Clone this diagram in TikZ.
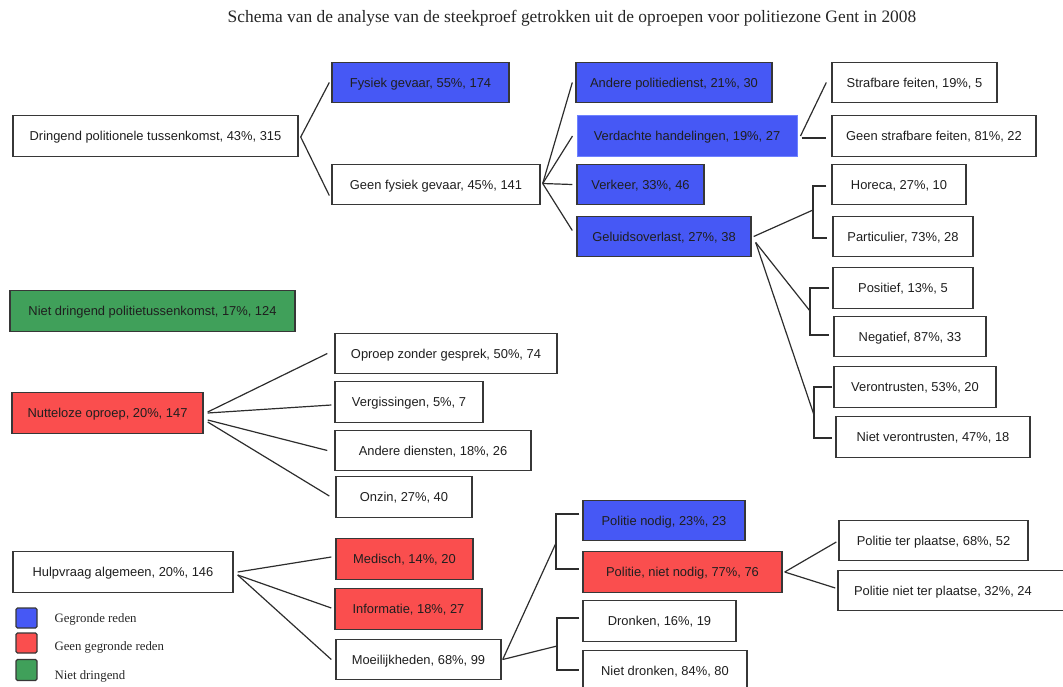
\documentclass[tikz,border=0pt]{standalone}
\usepackage{fontspec}
\setmainfont{Liberation Serif}
\newfontfamily\boxfont{Liberation Sans}
\usetikzlibrary{calc}
\definecolor{gblue}{RGB}{70,88,245}
\definecolor{gred}{RGB}{250,78,78}
\definecolor{ggreen}{RGB}{64,160,90}
\definecolor{bord}{RGB}{55,55,55}
\definecolor{lnk}{RGB}{45,45,45}
\begin{document}
\begin{tikzpicture}[x=1pt,y=-1pt,
  box/.style={draw=bord, line width=1.4pt, fill=white, minimum height=40.5pt, inner sep=0pt,
    text height=9.3pt, text depth=0pt,
    font=\boxfont\fontsize{12.9}{15}\selectfont, text=black!88},
  bluebox/.style={box, fill=gblue},
  redbox/.style={box, fill=gred},
  greenbox/.style={box, fill=ggreen},
  conn/.style={draw=lnk, line width=1.2pt},
  legsq/.style={draw=bord, line width=1.2pt, rounded corners=1.5pt},
  legtxt/.style={anchor=west, font=\fontsize{12.8}{14}\selectfont, text=black!85},
]
\useasboundingbox (0,0) rectangle (1063,686);

% title
\node[font=\fontsize{17.4}{20}\selectfont, text=black!85] (title) at (572,18) {Schema van de analyse van de steekproef getrokken uit de oproepen voor politiezone Gent in 2008};

% top tree
\node[box, minimum width=285pt] (dring) at (155.5,136) {Dringend politionele tussenkomst, 43\%, 315};
\node[bluebox, minimum width=177pt] (fys) at (420.5,82.5) {Fysiek gevaar, 55\%, 174};
\node[box, minimum width=208pt] (geenfys) at (436,184.5) {Geen fysiek gevaar, 45\%, 141};
\node[bluebox, minimum width=196pt] (andpol) at (674,82.5) {Andere politiedienst, 21\%, 30};
\node[bluebox, draw={rgb,255:red,110;green,130;blue,255}, line width=1pt, minimum width=220pt] (verd) at (687,136) {Verdachte handelingen, 19\%, 27};
\node[bluebox, minimum width=127pt] (verk) at (640.5,184.5) {Verkeer, 33\%, 46};
\node[bluebox, minimum width=174pt] (gel) at (664,236.5) {Geluidsoverlast, 27\%, 38};
\node[box, minimum width=165pt] (straf) at (914.5,82.5) {Strafbare feiten, 19\%, 5};
\node[box, minimum width=204pt] (geenstraf) at (934,136) {Geen strafbare feiten, 81\%, 22};
\node[box, minimum width=134pt] (horeca) at (899,184.5) {Horeca, 27\%, 10};
\node[box, minimum width=140pt] (partic) at (903,236.5) {Particulier, 73\%, 28};
\node[box, minimum width=140pt] (posit) at (903,288) {Positief, 13\%, 5};
\node[box, minimum width=152pt] (negat) at (910,336.5) {Negatief, 87\%, 33};
\node[box, minimum width=162pt] (veront) at (915,387) {Verontrusten, 53\%, 20};
\node[box, minimum width=194pt] (nietver) at (933,437) {Niet verontrusten, 47\%, 18};

% middle
\node[greenbox, minimum width=285pt] (nietdr) at (152.5,311) {Niet dringend politietussenkomst, 17\%, 124};
\node[redbox, minimum width=191pt] (nuttel) at (107.5,413) {Nutteloze oproep, 20\%, 147};
\node[box, minimum width=222pt] (oproep) at (446,353.5) {Oproep zonder gesprek, 50\%, 74};
\node[box, minimum width=148pt] (vergis) at (409,402) {Vergissingen, 5\%, 7};
\node[box, minimum width=196pt] (anddien) at (433,450.5) {Andere diensten, 18\%, 26};
\node[box, minimum width=136pt] (onzin) at (404,497) {Onzin, 27\%, 40};

% bottom
\node[box, minimum width=220pt] (hulp) at (123,572) {Hulpvraag algemeen, 20\%, 146};
\node[redbox, minimum width=137pt] (medisch) at (404.5,559) {Medisch, 14\%, 20};
\node[redbox, minimum width=147pt] (info) at (408.5,609) {Informatie, 18\%, 27};
\node[box, minimum width=165pt] (moeil) at (418.5,659.5) {Moeilijkheden, 68\%, 99};
\node[bluebox, minimum width=162pt] (polnod) at (664,520.5) {Politie nodig, 23\%, 23};
\node[redbox, minimum width=199pt] (polniet) at (682.5,572) {Politie, niet nodig, 77\%, 76};
\node[box, minimum width=153pt] (dronk) at (659.5,621) {Dronken, 16\%, 19};
\node[box, minimum width=164pt] (nietdronk) at (665,671) {Niet dronken, 84\%, 80};
\node[box, minimum width=189pt] (polter) at (933.5,540.5) {Politie ter plaatse, 68\%, 52};
\node[box, minimum width=242pt] (polnietter) at (959,590.5) {\makebox[242pt][l]{\hspace{16pt}Politie niet ter plaatse, 32\%, 24}};

% junction coordinates
\coordinate (j1) at (813,210);
\coordinate (j2) at (810,311);
\coordinate (j3) at (814,415);
\coordinate (j4) at (556,543);
\coordinate (j5) at (557,646);

% connectors top
\draw[conn] ($(dring.east)+(2,1)$) -- ($(fys.west)+(-2,0)$);
\draw[conn] ($(dring.east)+(2,1)$) -- ($(geenfys.west)+(-2,11)$);
\draw[conn] ($(geenfys.east)+(2,-1)$) -- ($(andpol.west)+(-3,0)$);
\draw[conn] ($(geenfys.east)+(2,-1)$) -- ($(verd.west)+(-4,0)$);
\draw[conn] ($(geenfys.east)+(2,-1)$) -- ($(verk.west)+(-4,0)$);
\draw[conn] ($(geenfys.east)+(2,-1)$) -- ($(gel.west)+(-4,-6)$);
\draw[conn] ($(verd.east)+(3,0)$) -- ($(straf.west)+(-5,0)$);
\draw[conn] ($(verd.east)+(4,2)$) -- ($(geenstraf.west)+(-5,2)$);
\draw[conn] ($(gel.east)+(2,0)$) -- (j1);
\draw[conn] ($(horeca.west)+(-5,1.5)$) -| (j1) |- ($(partic.west)+(-5,1.5)$);
\draw[conn] ($(gel.east)+(4,6)$) -- (j2);
\draw[conn] ($(posit.west)+(-3,0)$) -| (j2) |- ($(negat.west)+(-4,-1.5)$);
\draw[conn] ($(gel.east)+(4,6)$) -- (j3);
\draw[conn] ($(veront.west)+(-1,0)$) -| (j3) |- ($(nietver.west)+(-3,1)$);

% connectors middle
\draw[conn] ($(nuttel.east)+(4,-1)$) -- ($(oproep.west)+(-7,0)$);
\draw[conn] ($(nuttel.east)+(4,0)$) -- ($(vergis.west)+(-3,3)$);
\draw[conn] ($(nuttel.east)+(4,7)$) -- ($(anddien.west)+(-7,0)$);
\draw[conn] ($(nuttel.east)+(4,9)$) -- ($(onzin.west)+(-6,-1)$);

% connectors bottom
\draw[conn] ($(hulp.east)+(4,0)$) -- ($(medisch.west)+(-4,-2)$);
\draw[conn] ($(hulp.east)+(4,3)$) -- ($(info.west)+(-3,-1)$);
\draw[conn] ($(hulp.east)+(4,3)$) -- ($(moeil.west)+(-4,0)$);
\draw[conn] ($(moeil.east)+(1,0)$) -- (j4);
\draw[conn] ($(moeil.east)+(1,0)$) -- (j5);
\draw[conn] ($(polnod.west)+(-3,-6.5)$) -| (j4) |- ($(polniet.west)+(-3,-3)$);
\draw[conn] ($(dronk.west)+(-3,-3)$) -| (j5) |- ($(nietdronk.west)+(-3,-1)$);
\draw[conn] ($(polniet.east)+(2,0)$) -- ($(polter.west)+(-2,1.5)$);
\draw[conn] ($(polniet.east)+(2,0)$) -- ($(polnietter.west)+(-2,-2.5)$);

% legend
\node[legsq, fill=gblue, minimum width=21pt, minimum height=20pt, inner sep=0pt] (lb) at (26.5,618) {};
\node[legsq, fill=gred, minimum width=21pt, minimum height=20pt, inner sep=0pt] (lr) at (26.5,643) {};
\node[legsq, fill=ggreen, minimum width=21pt, minimum height=21pt, inner sep=0pt] (lg) at (26.5,670) {};
\node[legtxt] (lbt) at (51,619) {Gegronde reden};
\node[legtxt] (lrt) at (51,647) {Geen gegronde reden};
\node[legtxt] (lgt) at (51,676) {Niet dringend};
\end{tikzpicture}
\end{document}
